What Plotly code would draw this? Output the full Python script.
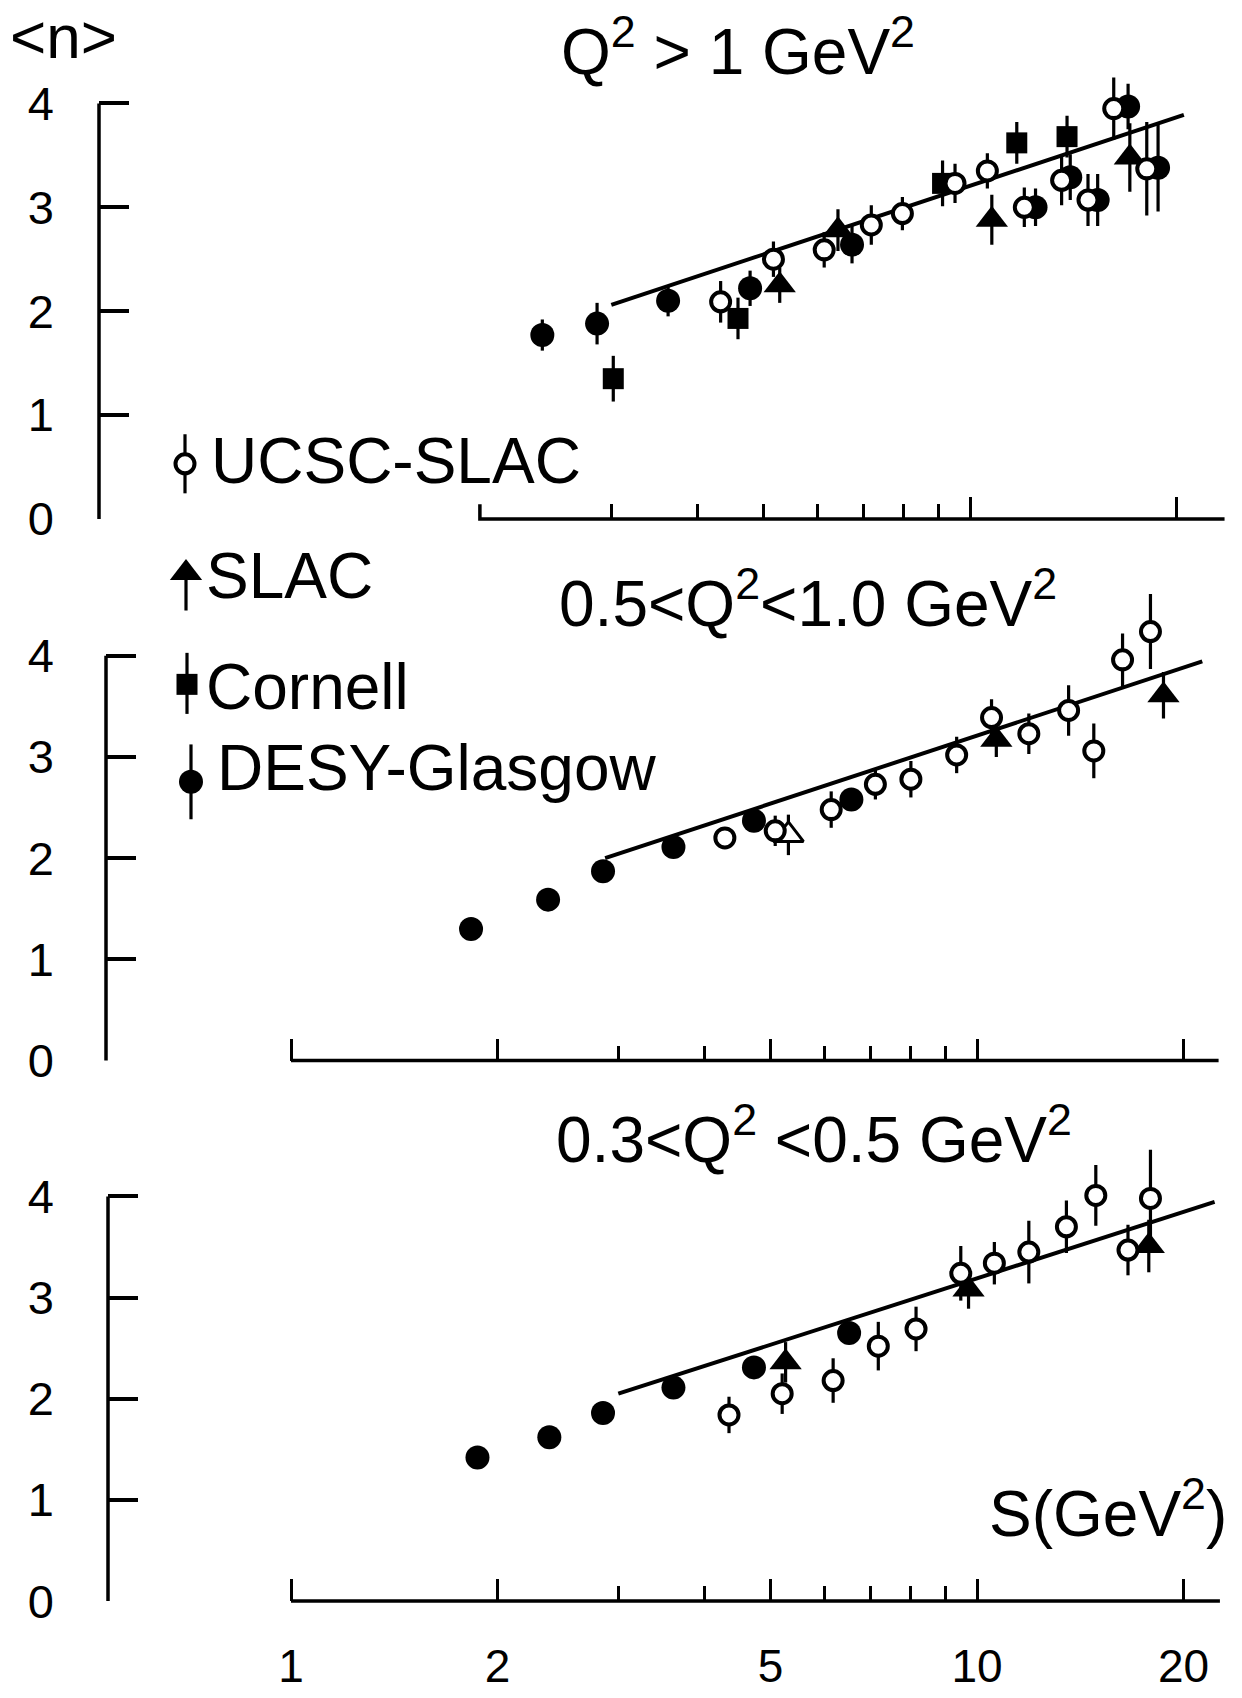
import math
import plotly.graph_objects as go

# ---------------- data: mean multiplicity <n> vs S (GeV^2) ----------------
# Q^2 > 1 GeV^2
top_ucsc_s = [4.33, 5.17, 6.13, 7.18, 7.97, 9.51, 10.6, 12.0, 13.6, 14.86, 16.2, 18.1]
top_ucsc_n = [2.09, 2.50, 2.59, 2.83, 2.94, 3.23, 3.35, 3.00, 3.26, 3.07, 3.95, 3.37]
top_ucsc_err = [0.20, 0.17, 0.17, 0.19, 0.16, 0.19, 0.17, 0.19, 0.24, 0.25, 0.30, 0.45]
top_slac_s = [5.28, 6.42, 10.76, 17.1]
top_slac_n = [2.25, 2.78, 2.88, 3.48]
top_slac_err = [0.17, 0.20, 0.24, 0.33]
top_cornell_s = [3.02, 4.59, 9.12, 11.7, 13.85]
top_cornell_n = [1.35, 1.93, 3.23, 3.62, 3.68]
top_cornell_err = [0.22, 0.20, 0.22, 0.20, 0.20]
top_desy_s = [2.38, 2.86, 3.63, 4.78, 6.73, 12.46, 14.0, 15.35, 17.0, 18.8]
top_desy_n = [1.77, 1.88, 2.10, 2.22, 2.64, 3.00, 3.29, 3.07, 3.97, 3.38]
top_desy_err = [0.15, 0.20, 0.15, 0.17, 0.18, 0.18, 0.22, 0.25, 0.22, 0.42]
top_fit_s = [3.0, 20.5]
top_fit_n = [2.06, 3.89]

# 0.5 < Q^2 < 1.0 GeV^2
mid_ucsc_s = [4.29, 5.08, 6.13, 7.11, 8.01, 9.34, 10.5, 11.9, 13.6, 14.8, 16.3, 17.9]
mid_ucsc_n = [2.20, 2.27, 2.48, 2.73, 2.78, 3.02, 3.39, 3.23, 3.46, 3.06, 3.96, 4.24]
mid_ucsc_err = [0.0, 0.15, 0.18, 0.15, 0.18, 0.18, 0.18, 0.20, 0.25, 0.27, 0.26, 0.37]
mid_slac_s = [10.67, 18.7]
mid_slac_n = [3.17, 3.61]
mid_slac_err = [0.17, 0.23]
mid_slac_open_s = [5.31]
mid_slac_open_n = [2.23]
mid_slac_open_err = [0.20]
mid_desy_s = [1.83, 2.37, 2.85, 3.61, 4.73, 6.56]
mid_desy_n = [1.30, 1.59, 1.87, 2.11, 2.37, 2.58]
mid_fit_s = [2.87, 21.3]
mid_fit_n = [2.00, 3.945]

# 0.3 < Q^2 < 0.5 GeV^2
bot_ucsc_s = [4.35, 5.20, 6.17, 7.18, 8.15, 9.47, 10.6, 11.9, 13.5, 14.9, 16.6, 17.9]
bot_ucsc_n = [1.84, 2.05, 2.18, 2.52, 2.69, 3.24, 3.34, 3.45, 3.70, 4.01, 3.47, 3.98]
bot_ucsc_err = [0.18, 0.20, 0.22, 0.24, 0.22, 0.27, 0.21, 0.31, 0.26, 0.30, 0.25, 0.48]
bot_slac_s = [5.26, 9.72, 17.8]
bot_slac_n = [2.36, 3.08, 3.51]
bot_slac_err = [0.20, 0.19, 0.26]
bot_desy_s = [1.87, 2.38, 2.85, 3.61, 4.73, 6.51]
bot_desy_n = [1.42, 1.62, 1.86, 2.11, 2.31, 2.65]
bot_fit_s = [3.0, 22.2]
bot_fit_n = [2.05, 3.945]

y_ticks = [0, 1, 2, 3, 4]
x_major = [1, 2, 5, 10, 20]
x_minor = [3, 4, 6, 7, 8, 9]

series_names = ["UCSC-SLAC", "SLAC", "Cornell", "DESY-Glasgow"]

# ---------------- page geometry (pixels) ----------------
W, H = 1242, 1698
RIGHT_PX = 1232
YMAX = 4.7
LABEL_RIGHT_PX = 55          # right edge of the ordinate numbers
START_CAP_PX = 15            # upturned end of a shortened abscissa
FONT = "Liberation Sans, Arial, sans-serif"
INK = "black"

PANELS = [
    dict(axis_px=99, s1_px=284, decade_px=686, y0_px=527, unit_px=105.5,
         base=(1.93, 23.5), cap=True, major=[10, 20], minor=[3, 4, 5, 6, 7, 8, 9],
         labels=False),
    dict(axis_px=106, s1_px=291, decade_px=686, y0_px=1077, unit_px=102.75,
         base=(1.0, 22.5), cap=False, major=x_major, minor=x_minor, labels=False),
    dict(axis_px=108, s1_px=291, decade_px=686, y0_px=1626, unit_px=102.75,
         base=(1.0, 22.6), cap=False, major=x_major, minor=x_minor, labels=True),
]


def px_x(p, s):
    return p["s1_px"] + p["decade_px"] * math.log10(s)


def err(arr):
    return dict(type="data", array=arr, visible=True, thickness=3.2, width=0, color=INK)


OPEN_CIRCLE = dict(symbol="circle", size=19, color="white", line=dict(color=INK, width=4))
FULL_CIRCLE = dict(symbol="circle", size=24, color=INK, line=dict(width=0))
TRIANGLE = dict(symbol="triangle-up", size=28, color=INK, line=dict(width=0))
OPEN_TRIANGLE = dict(symbol="triangle-up", size=26, color="white", line=dict(color=INK, width=3))
SQUARE = dict(symbol="square", size=21, color=INK, line=dict(width=0))


def points(s, n, marker, e=None):
    d = dict(x=s, y=n, mode="markers", marker=marker)
    if e is not None:
        d["error_y"] = err(e)
    return d


def fit_line(s, n):
    return dict(x=s, y=n, mode="lines", line=dict(color=INK, width=4))


panel_traces = [
    [fit_line(top_fit_s, top_fit_n),
     points(top_cornell_s, top_cornell_n, SQUARE, top_cornell_err),
     points(top_desy_s, top_desy_n, FULL_CIRCLE, top_desy_err),
     points(top_slac_s, top_slac_n, TRIANGLE, top_slac_err),
     points(top_ucsc_s, top_ucsc_n, OPEN_CIRCLE, top_ucsc_err)],
    [fit_line(mid_fit_s, mid_fit_n),
     points(mid_desy_s, mid_desy_n, FULL_CIRCLE),
     points(mid_slac_s, mid_slac_n, TRIANGLE, mid_slac_err),
     points(mid_slac_open_s, mid_slac_open_n, OPEN_TRIANGLE, mid_slac_open_err),
     points(mid_ucsc_s, mid_ucsc_n, OPEN_CIRCLE, mid_ucsc_err)],
    [fit_line(bot_fit_s, bot_fit_n),
     points(bot_desy_s, bot_desy_n, FULL_CIRCLE),
     points(bot_slac_s, bot_slac_n, TRIANGLE, bot_slac_err),
     points(bot_ucsc_s, bot_ucsc_n, OPEN_CIRCLE, bot_ucsc_err)],
]

fig = go.Figure()
layout = dict(width=W, height=H, margin=dict(l=0, r=0, t=0, b=0),
              paper_bgcolor="white", plot_bgcolor="rgba(0,0,0,0)",
              showlegend=False, font=dict(family=FONT, color=INK))
shapes = []


def fx(px):
    return px / W


def fy(px):
    return 1 - px / H


for i, (p, traces) in enumerate(zip(PANELS, panel_traces), start=1):
    suf = "" if i == 1 else str(i)
    for t in traces:
        fig.add_trace(go.Scatter(**t, xaxis="x" + suf, yaxis="y" + suf,
                                 cliponaxis=False, hoverinfo="skip"))
    x_lo = (p["axis_px"] - p["s1_px"]) / p["decade_px"]
    x_hi = (RIGHT_PX - p["s1_px"]) / p["decade_px"]
    top_px = p["y0_px"] - YMAX * p["unit_px"]
    layout["xaxis" + suf] = dict(
        type="log", range=[x_lo, x_hi], domain=[fx(p["axis_px"]), fx(RIGHT_PX)],
        anchor="y" + suf, showline=False, showgrid=False, zeroline=False,
        tickmode="array", tickvals=p["major"],
        ticktext=[str(v) for v in p["major"]],
        showticklabels=p["labels"], ticks="inside", ticklen=22, tickwidth=3,
        tickcolor=INK, ticklabelstandoff=34,
        tickfont=dict(family=FONT, size=46, color=INK),
        minor=dict(tickmode="array", tickvals=p["minor"], ticks="inside",
                   ticklen=15, tickwidth=3, tickcolor=INK, showgrid=False),
    )
    layout["yaxis" + suf] = dict(
        range=[0, YMAX], domain=[fy(p["y0_px"]), fy(top_px)],
        anchor="x" + suf, showline=False, showgrid=False, zeroline=False,
        tickmode="array", tickvals=y_ticks, ticks="inside", ticklen=30,
        tickwidth=3.5, tickcolor=INK, ticklabelstandoff=p["axis_px"] - LABEL_RIGHT_PX,
        tickfont=dict(family=FONT, size=47, color=INK),
    )
    # bracket-style ordinate line from 0 to 4
    shapes.append(dict(type="line", xref="paper", yref="paper",
                       x0=fx(p["axis_px"]), x1=fx(p["axis_px"]),
                       y0=fy(p["y0_px"]), y1=fy(p["y0_px"] - 4 * p["unit_px"]),
                       line=dict(color=INK, width=3.5)))
    # abscissa line, starting at its first tick
    xa, xb = fx(px_x(p, p["base"][0])), fx(px_x(p, p["base"][1]))
    yb = fy(p["y0_px"])
    if p["cap"]:
        yc = fy(p["y0_px"] - START_CAP_PX)
        path = f"M {xa},{yc} L {xa},{yb} L {xb},{yb}"
    else:
        path = f"M {xa},{yb} L {xb},{yb}"
    shapes.append(dict(type="path", xref="paper", yref="paper", path=path,
                       line=dict(color=INK, width=3.5)))

# legend keys drawn on a full-page pixel overlay
layout["xaxis4"] = dict(domain=[0, 1], range=[0, W], visible=False, anchor="y4")
layout["yaxis4"] = dict(domain=[0, 1], range=[H, 0], visible=False, anchor="x4")
key_pos = [(185, 471), (186, 582), (187, 695), (191, 794)]
key_err_up = [30, 0, 32, 38]
key_err_down = [30, 38, 30, 38]
key_markers = [OPEN_CIRCLE, TRIANGLE, SQUARE, FULL_CIRCLE]
for (kx, ky), up, dn, mk in zip(key_pos, key_err_up, key_err_down, key_markers):
    fig.add_trace(go.Scatter(
        x=[kx], y=[ky], mode="markers", marker=mk, xaxis="x4", yaxis="y4",
        error_y=dict(type="data", symmetric=False, array=[dn], arrayminus=[up],
                     thickness=3.2, width=0, color=INK),
        cliponaxis=False, hoverinfo="skip"))

label_pos = [(209, 468), (204, 585), (204, 698), (215, 780)]
annotations = []
for name, (lx, ly) in zip(series_names, label_pos):
    annotations.append(dict(text=name, x=fx(lx), y=fy(ly), xref="paper", yref="paper",
                            xanchor="left", yanchor="middle", showarrow=False,
                            font=dict(family=FONT, size=64, color=INK)))

titles = [
    ("Q<sup>2</sup> &gt; 1 GeV<sup>2</sup>", 738, 48, 64),
    ("0.5&lt;Q<sup>2</sup>&lt;1.0 GeV<sup>2</sup>", 808, 608, 64),
    ("0.3&lt;Q<sup>2</sup> &lt;0.5 GeV<sup>2</sup>", 814, 1153, 64),
    ("S(GeV<sup>2</sup>)", 1108, 1532, 64),
]
for text, tx, ty, size in titles:
    annotations.append(dict(text=text, x=fx(tx), y=fy(ty), xref="paper", yref="paper",
                            xanchor="center", yanchor="middle", showarrow=False,
                            font=dict(family=FONT, size=size, color=INK)))
# ordinate title in the top-left corner
annotations.append(dict(text="&lt;n&gt;", x=fx(8), y=1, xref="paper", yref="paper",
                        xanchor="left", yanchor="top", showarrow=False,
                        font=dict(family=FONT, size=62, color=INK)))

layout["shapes"] = shapes
layout["annotations"] = annotations
fig.update_layout(**layout)
fig.write_html("out.html")
